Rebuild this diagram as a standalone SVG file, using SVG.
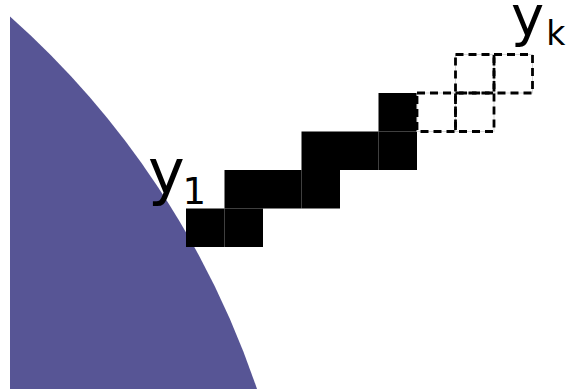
<svg xmlns="http://www.w3.org/2000/svg" width="568" height="391" viewBox="0 0 568 391">
<style>
.blk{fill:#000;stroke:none}
.dsh{fill:none;stroke:#000;stroke-width:2.8;stroke-dasharray:8,5}
.faint{fill:none;stroke:#d8d8d8;stroke-width:1}
.lbl{font-family:"DejaVu Sans",sans-serif;fill:#000}
</style>
<rect width="568" height="391" fill="#fff"/>
<g id="region">
<path d="M10,389 L10,16.5 A873,873 0 0 1 257,389 Z" fill="#575595"/>
</g>
<g id="cells">
<rect class="blk" x="186" y="208.5" width="38.5" height="38.5"/>
<rect class="blk" x="224.5" y="208.5" width="38.5" height="38.5"/>
<rect class="blk" x="224.5" y="170" width="38.5" height="38.5"/>
<rect class="blk" x="263" y="170" width="38.5" height="38.5"/>
<rect class="blk" x="301.5" y="170" width="38.5" height="38.5"/>
<rect class="blk" x="301.5" y="131.5" width="38.5" height="38.5"/>
<rect class="blk" x="340" y="131.5" width="38.5" height="38.5"/>
<rect class="blk" x="378.5" y="131.5" width="38.5" height="38.5"/>
<rect class="blk" x="378.5" y="93" width="38.5" height="38.5"/>
</g>
<g id="future">
<rect class="faint" x="417" y="93" width="38.5" height="38.5"/>
<rect class="faint" x="455.5" y="93" width="38.5" height="38.5"/>
<rect class="faint" x="455.5" y="54.5" width="38.5" height="38.5"/>
<rect class="faint" x="494" y="54.5" width="38.5" height="38.5"/>
<rect class="dsh" x="417" y="93" width="38.5" height="38.5"/>
<rect class="dsh" x="455.5" y="93" width="38.5" height="38.5"/>
<rect class="dsh" x="455.5" y="54.5" width="38.5" height="38.5"/>
<rect class="dsh" x="494" y="54.5" width="38.5" height="38.5"/>
</g>
<g id="label-y1">
<text class="lbl" x="148" y="192.5" font-size="62">y</text>
<text class="lbl" x="182.5" y="203.5" font-size="37">1</text>
</g>
<g id="label-yk">
<text class="lbl" x="511" y="35" font-size="56">y</text>
<text class="lbl" x="546.3" y="45" font-size="33">k</text>
</g>
</svg>
